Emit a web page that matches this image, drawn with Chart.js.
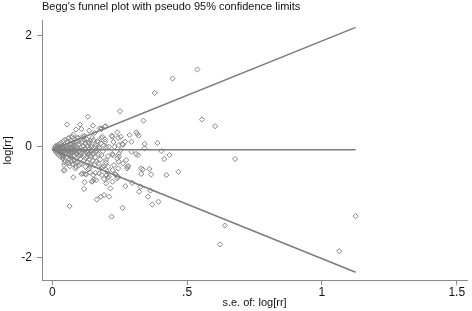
<!DOCTYPE html>
<html>
<head>
<meta charset="utf-8">
<title>Begg's funnel plot</title>
<script src="https://cdn.jsdelivr.net/npm/chart.js@4.4.1/dist/chart.umd.min.js"></script>
<style>
  html, body { margin: 0; padding: 0; background: #fff; }
</style>
</head>
<body>
<canvas id="chartFunnel" width="472" height="311"></canvas>
<script>
// Studies: standard error of log[rr] and log[rr]
const studySe = [
  0.008, 0.010, 0.012, 0.013, 0.015, 0.017, 0.018, 0.020, 0.021, 0.023, 0.024, 0.026, 0.027, 0.029, 0.030,
  0.031, 0.033, 0.034, 0.036, 0.037, 0.039, 0.040, 0.041, 0.043, 0.044, 0.046, 0.047, 0.048, 0.049,
  0.040, 0.044, 0.046, 0.039, 0.045, 0.042,
  0.014, 0.019, 0.022, 0.025, 0.028, 0.032, 0.035, 0.038, 0.042, 0.045, 0.050, 0.054, 0.058, 0.062, 0.066,
  0.070, 0.074, 0.080, 0.084, 0.090, 0.096, 0.102, 0.106, 0.114, 0.122, 0.130, 0.136, 0.144, 0.150, 0.162,
  0.170,
  0.051, 0.052, 0.053, 0.055, 0.055, 0.056, 0.057, 0.058, 0.059, 0.060, 0.061, 0.062, 0.063, 0.064, 0.064,
  0.065, 0.065, 0.066, 0.067, 0.068, 0.069, 0.070, 0.071, 0.072, 0.073, 0.074, 0.075, 0.076, 0.077, 0.078,
  0.078, 0.079, 0.080, 0.081, 0.082, 0.083, 0.084, 0.085, 0.086, 0.087, 0.088, 0.088, 0.088, 0.089, 0.090,
  0.091, 0.092, 0.093, 0.094, 0.095, 0.096, 0.097, 0.098, 0.099, 0.100,
  0.103, 0.104, 0.105, 0.107, 0.108, 0.108, 0.109, 0.110, 0.111, 0.112, 0.113, 0.114, 0.115, 0.116, 0.117,
  0.118, 0.119, 0.120, 0.120, 0.121, 0.122, 0.123, 0.124, 0.125, 0.126, 0.127, 0.128, 0.130, 0.131, 0.132,
  0.133, 0.134, 0.135, 0.137, 0.137, 0.137, 0.138, 0.139, 0.140, 0.141, 0.142, 0.143, 0.145, 0.146, 0.147,
  0.148, 0.149, 0.150, 0.151, 0.152, 0.152, 0.153, 0.154, 0.155, 0.156, 0.157, 0.158, 0.159,
  0.160, 0.161, 0.163, 0.164, 0.165, 0.166, 0.168, 0.170, 0.171, 0.172, 0.174, 0.174, 0.176, 0.178, 0.180,
  0.180, 0.181, 0.182, 0.182, 0.182, 0.184, 0.184, 0.186, 0.186, 0.188, 0.191, 0.192, 0.192, 0.192, 0.196,
  0.196, 0.196, 0.197, 0.199, 0.199, 0.200, 0.200, 0.201, 0.204, 0.206, 0.207, 0.207, 0.210, 0.210, 0.211,
  0.216, 0.220, 0.221, 0.223, 0.223, 0.223, 0.224, 0.225, 0.227, 0.229, 0.231, 0.233, 0.234, 0.241, 0.241,
  0.241, 0.244, 0.244, 0.245, 0.247, 0.247, 0.247, 0.247,
  0.251, 0.254, 0.254, 0.260, 0.261, 0.262, 0.262, 0.270, 0.271, 0.274, 0.277, 0.279, 0.282, 0.287, 0.294,
  0.294, 0.296, 0.311, 0.312, 0.315, 0.318, 0.321, 0.322, 0.328, 0.330, 0.330, 0.336, 0.338, 0.343, 0.343,
  0.355, 0.360, 0.364, 0.367, 0.371, 0.380, 0.390, 0.394, 0.405, 0.415, 0.423, 0.435, 0.446, 0.468, 0.538,
  0.555, 0.604, 0.622, 0.640, 0.678, 1.064, 1.125
];
const studyLogRR = [
  -0.03, -0.06, 0.01, -0.09, -0.04, -0.01, -0.12, 0.03, -0.07, -0.02, -0.15, 0.05, -0.05, -0.10, 0.00,
  -0.18, 0.07, -0.03, -0.13, 0.02, -0.08, -0.21, 0.10, -0.01, -0.16, 0.04, -0.06, -0.25, 0.13,
  -0.21, -0.33, -0.42, -0.18, -0.28, -0.43,
  -0.02, -0.05, 0.00, -0.09, -0.03, -0.06, -0.10, -0.02, -0.07, -0.12, -0.05, -0.08, -0.03, -0.06, -0.11,
  -0.04, -0.08, -0.02, -0.06, -0.09, -0.03, -0.07, -0.15, -0.10, -0.05, -0.18, -0.09, -0.06, -0.14, -0.09,
  -0.04,
  -0.11, 0.02, -0.19, 0.40, -0.04, 0.08, -0.28, -0.09, 0.15, -0.14, -0.01, 0.16, -0.23, -1.07, -0.30,
  0.05, -0.35, -0.07, -0.17, 0.11, -0.02, -0.26, 0.06, -0.12, -0.20, 0.18, -0.05, -0.31, 0.01, 0.22,
  -0.55, -0.10, 0.08, -0.16, -0.24, 0.03, 0.13, -0.07, -0.39, -0.29, 0.31, 0.08, -0.36, -0.13, 0.00,
  -0.20, 0.16, -0.04, -0.27, 0.10, 0.16, -0.09, -0.17, 0.05, -0.33,
  0.40, -0.02, -0.22, -0.31, 0.32, -0.49, 0.07, -0.12, 0.10, -0.06, -0.48, 0.19, -0.26, 0.01, -0.15,
  -0.76, 0.12, -0.64, 0.19, -0.04, -0.49, -0.36, 0.05, -0.20, -0.50, 0.14, -0.09, -0.28, 0.02, 0.54,
  -0.41, -0.13, 0.08, 0.29, 0.06, -0.39, -0.23, -0.03, -0.46, 0.11, -0.17, -0.33, 0.00, -0.08, -0.63,
  0.16, -0.62, -0.25, 0.38, 0.12, -0.51, -0.12, -0.59, -0.02, -0.33, 0.25, 0.01, -0.19,
  -0.47, 0.04, -0.60, -0.27, -0.95, -0.06, 0.10, 0.085, -0.30, -0.14, -0.48, -0.02, 0.33, -0.23, -0.90,
  0.06, -0.39, 0.32, 0.16, -0.15, -0.51, 0.33, -0.36, 0.18, -0.08, 0.02, -0.87, -0.58, -0.35, 0.09,
  0.13, 0.36, 0.37, -0.28, -0.24, -0.66, 0.00, -0.51, -0.45, -0.56, -0.17, -0.36, -0.54, 0.00, -0.90,
  -0.75, -1.26, 0.20, -0.63, 0.18, -0.13, -0.42, -0.15, 0.085, -0.33, 0.00, -0.49, -0.50, 0.26, -0.57,
  -0.21, 0.16, -0.54, -0.39, -0.27, -0.13, 0.03, -0.18,
  0.64, -0.06, 0.18, 0.05, -1.10, -0.30, 0.04, 0.09, -0.71, -0.24, -0.39, -0.36, -0.35, 0.21, -0.09,
  0.09, -0.65, -0.13, 0.26, 0.23, -0.15, 0.20, -0.81, -0.72, -0.49, -0.39, -0.41, 0.47, 0.05, -0.03,
  -0.90, -0.40, -0.79, -0.50, -1.04, 0.97, 0.07, -0.99, -0.08, -0.22, -0.51, -0.15, 1.23, -0.45, 1.39,
  0.49, 0.37, -1.76, -1.42, -0.22, -1.88, -1.25
];

// Pseudo 95% confidence limits and pooled estimate (endpoints)
const limitSe = [0, 1.125];
const upperLimit = [-0.055, 2.15];
const lowerLimit = [-0.055, -2.26];
const pooledLine = [-0.055, -0.055];

// Axis ticks
const xTicks = [0, 0.5, 1, 1.5];
const xTickLabels = ['0', '.5', '1', '1.5'];
const yTicks = [-2, 0, 2];
const yTickLabels = ['-2', '0', '2'];

function loadFunnelChart() {
    const ctx = document.getElementById('chartFunnel');
    if (!ctx) {
        console.warn('canvas chartFunnel not found');
        return;
    }

    const points = studySe.map((se, i) => ({ x: se, y: studyLogRR[i] }));
    const toLine = (ys) => limitSe.map((se, i) => ({ x: se, y: ys[i] }));

    const lineStyle = {
        type: 'line',
        borderColor: '#7c7c7c',
        borderWidth: 1.5,
        pointRadius: 0,
        fill: false,
        tension: 0
    };

    const fontFamily = "'Liberation Sans', Arial, sans-serif";
    const textColor = '#111';
    const axisColor = '#8a8a8a';

    new Chart(ctx, {
        type: 'scatter',
        data: {
            datasets: [
                { ...lineStyle, label: 'upper', data: toLine(upperLimit) },
                { ...lineStyle, label: 'lower', data: toLine(lowerLimit) },
                { ...lineStyle, label: 'pooled', data: toLine(pooledLine) },
                {
                    label: 'log[rr]',
                    data: points,
                    pointStyle: 'rectRot',
                    pointRadius: 2.6,
                    pointBorderWidth: 1,
                    pointBorderColor: '#858585',
                    pointBackgroundColor: 'rgba(255,255,255,0)'
                }
            ]
        },
        options: {
            responsive: false,
            animation: false,
            layout: { padding: { left: 0, right: 1, top: 0, bottom: 0 } },
            plugins: {
                legend: { display: false },
                tooltip: { enabled: false },
                title: {
                    display: true,
                    text: "Begg's funnel plot with pseudo 95% confidence limits",
                    align: 'start',
                    fullSize: false,
                    color: textColor,
                    font: { family: fontFamily, size: 11, weight: 'normal' },
                    padding: { top: 0, bottom: 7.5 }
                }
            },
            scales: {
                x: {
                    type: 'linear',
                    min: -0.038,
                    max: 1.538,
                    afterBuildTicks: (scale) => { scale.ticks = xTicks.map(v => ({ value: v })); },
                    afterFit: (scale) => { scale.height = 31; },
                    ticks: {
                        callback: (v, i) => xTickLabels[i],
                        color: textColor,
                        font: { family: fontFamily, size: 12 },
                        padding: 0,
                        maxRotation: 0,
                        autoSkip: false
                    },
                    grid: { drawOnChartArea: false, drawTicks: true, tickLength: 5, color: axisColor },
                    border: { display: true, color: axisColor, width: 1 },
                    title: {
                        display: true,
                        text: 's.e. of: log[rr]',
                        color: textColor,
                        font: { family: fontFamily, size: 11 },
                        padding: { top: 0, bottom: 1 }
                    }
                },
                y: {
                    type: 'linear',
                    min: -2.40,
                    max: 2.27,
                    afterBuildTicks: (scale) => { scale.ticks = yTicks.map(v => ({ value: v })); },
                    afterFit: (scale) => { scale.width = 42; },
                    ticks: {
                        callback: (v, i) => yTickLabels[i],
                        color: textColor,
                        font: { family: fontFamily, size: 12 },
                        padding: 5
                    },
                    grid: { drawOnChartArea: false, drawTicks: true, tickLength: 5, color: axisColor },
                    border: { display: true, color: axisColor, width: 1 },
                    title: {
                        display: true,
                        text: 'log[rr]',
                        color: textColor,
                        font: { family: fontFamily, size: 11 },
                        padding: { top: 1, bottom: 0 }
                    }
                }
            }
        }
    });
}

loadFunnelChart();
</script>
</body>
</html>
